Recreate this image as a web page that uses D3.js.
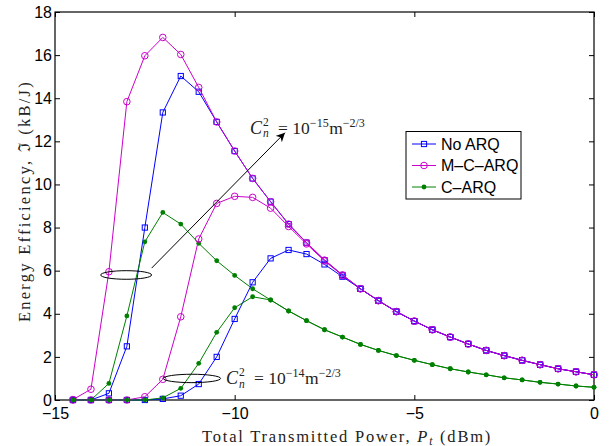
<!DOCTYPE html>
<html><head><meta charset="utf-8">
<script src="https://cdn.jsdelivr.net/npm/d3@7"></script>
<style>body{margin:0;background:#fff}</style>
</head><body><svg id="c" width="611" height="446"></svg>
<script>
// ---- data ----
const powerDbm = [-14.5,-14,-13.5,-13,-12.5,-12,-11.5,-11,-10.5,-10,-9.5,-9,-8.5,-8,-7.5,-7,-6.5,-6,-5.5,-5,-4.5,-4,-3.5,-3,-2.5,-2,-1.5,-1,-0.5,0];
// Cn^2 = 1e-15
const noArq15 = [0,0,0.31,2.49,8.00,13.34,15.03,14.30,12.90,11.55,10.28,9.20,8.16,7.30,6.49,5.80,5.16,4.61,4.10,3.66,3.26,2.92,2.60,2.30,2.06,1.84,1.64,1.45,1.31,1.17];
const mcArq15 = [0.02,0.50,5.95,13.84,15.97,16.82,16.03,14.50,12.90,11.55,10.28,9.20,8.16,7.30,6.49,5.80,5.16,4.61,4.10,3.66,3.26,2.92,2.60,2.30,2.06,1.84,1.64,1.45,1.31,1.17];
const cArq15  = [0,0,0.77,3.90,7.34,8.70,8.16,7.27,6.46,5.78,5.16,4.64,4.13,3.68,3.26,2.92,2.58,2.30,2.06,1.84,1.64,1.45,1.30,1.17,1.03,0.93,0.82,0.74,0.65,0.59];
// Cn^2 = 1e-14
const noArq14 = [0,0,0,0,0,0.05,0.20,0.74,2.00,3.76,5.46,6.57,6.96,6.77,6.29,5.72,5.16,4.61,4.10,3.66,3.26,2.92,2.60,2.30,2.06,1.84,1.64,1.45,1.31,1.17];
const mcArq14 = [0,0,0,0,0.15,0.96,3.86,7.47,9.12,9.45,9.40,8.90,8.05,7.24,6.45,5.78,5.16,4.61,4.10,3.66,3.26,2.92,2.60,2.30,2.06,1.84,1.64,1.45,1.31,1.17];
const cArq14  = [0,0,0,0,0,0.10,0.54,1.70,3.14,4.28,4.79,4.64,4.13,3.68,3.26,2.92,2.58,2.30,2.06,1.84,1.64,1.45,1.30,1.17,1.03,0.93,0.82,0.74,0.65,0.59];
const legendLabels = ["No ARQ","M\u2013C\u2013ARQ","C\u2013ARQ"];
const xTickValues = [-15,-10,-5,0];
const yTickValues = [0,2,4,6,8,10,12,14,16,18];

// ---- layout ----
const BLUE = "#0000ff", MAG = "#cc00cc", GRN = "#008000";
const svg = d3.select("#c");
const L = 55, R = 594, T = 12, B = 400;
const x = d3.scaleLinear().domain([-15,0]).range([L,R]);
const y = d3.scaleLinear().domain([0,18]).range([B,T]);
const sans = "'Liberation Sans', Arial, Helvetica, sans-serif";
const serif = "'Liberation Serif', 'Times New Roman', serif";

// widen a text to a target width using letter spacing
function spreadTo(sel, target){
  const w = sel.node().getComputedTextLength();
  const n = sel.text().length;
  sel.attr("letter-spacing", ((target - w)/n).toFixed(2));
}

// axes
const fmt = d => d < 0 ? "\u2212" + (-d) : String(d);
const gx = svg.append("g").attr("transform",`translate(0,${B})`)
  .call(d3.axisBottom(x).tickValues(xTickValues).tickSizeInner(-5).tickSizeOuter(0).tickPadding(8).tickFormat(fmt));
const gy = svg.append("g").attr("transform",`translate(${L},0)`)
  .call(d3.axisLeft(y).tickValues(yTickValues).tickSizeInner(-5).tickSizeOuter(0).tickPadding(3).tickFormat(fmt));
const gt = svg.append("g").attr("transform",`translate(0,${T})`)
  .call(d3.axisTop(x).tickValues(xTickValues).tickSizeInner(-5).tickSizeOuter(0).tickFormat(""));
const gr = svg.append("g").attr("transform",`translate(${R},0)`)
  .call(d3.axisRight(y).tickValues(yTickValues).tickSizeInner(-5).tickSizeOuter(0).tickFormat(""));
[gx,gy,gt,gr].forEach(g=>{
  g.select(".domain").remove();
  g.selectAll("text").attr("font-family",sans).attr("font-size",16).attr("fill","#000");
  g.selectAll("line").attr("stroke","#000");
});
svg.append("rect").attr("x",L).attr("y",T).attr("width",R-L).attr("height",B-T)
  .attr("fill","none").attr("stroke","#000").attr("stroke-width",1.2);

// series
const series = [
  {v:noArq15,c:BLUE,m:"sq"},{v:mcArq15,c:MAG,m:"ci"},{v:cArq15,c:GRN,m:"dot"},
  {v:noArq14,c:BLUE,m:"sq"},{v:mcArq14,c:MAG,m:"ci"},{v:cArq14,c:GRN,m:"dot"}
];
const line = d3.line().x((d,i)=>x(powerDbm[i])).y(d=>y(d));
function marker(g, m, c, cx, cy){
  if(m==="sq") g.append("rect").attr("x",cx-2.6).attr("y",cy-2.6).attr("width",5.2).attr("height",5.2)
      .attr("fill","none").attr("stroke",c).attr("stroke-width",1);
  else if(m==="ci") g.append("circle").attr("cx",cx).attr("cy",cy).attr("r",3.3)
      .attr("fill","none").attr("stroke",c).attr("stroke-width",1);
  else g.append("circle").attr("cx",cx).attr("cy",cy).attr("r",2.4).attr("fill",c);
}
series.forEach(s=>{
  const g = svg.append("g");
  g.append("path").attr("d",line(s.v)).attr("fill","none").attr("stroke",s.c).attr("stroke-width",1);
  s.v.forEach((d,i)=>marker(g,s.m,s.c,x(powerDbm[i]),y(d)));
});

// annotations
svg.append("defs").append("marker").attr("id","ah").attr("viewBox","0 0 10 10")
  .attr("refX",10).attr("refY",5).attr("markerWidth",9).attr("markerHeight",9)
  .attr("orient","auto").attr("markerUnits","userSpaceOnUse")
  .append("path").attr("d","M0,0 L10,5 L0,10 L3,5 Z").attr("fill","#000");
svg.append("ellipse").attr("cx",x(-13.02)).attr("cy",y(5.8)).attr("rx",25.5).attr("ry",4.3)
  .attr("fill","none").attr("stroke","#000").attr("stroke-width",1);
svg.append("line").attr("x1",x(-12.31)).attr("y1",y(6.12)).attr("x2",x(-8.6)).attr("y2",y(12.4))
  .attr("stroke","#000").attr("stroke-width",1).attr("marker-end","url(#ah)");
svg.append("ellipse").attr("cx",x(-11.19)).attr("cy",y(1.0)).attr("rx",28.7).attr("ry",4.2)
  .attr("fill","none").attr("stroke","#000").attr("stroke-width",1);

function cn(x0, base, expo){
  const g = svg.append("g").attr("font-family",serif).attr("fill","#222");
  g.append("text").attr("x",x0).attr("y",base).attr("font-size",18).attr("font-style","italic").text("C");
  g.append("text").attr("x",x0+13).attr("y",base-8).attr("font-size",11.5).text("2");
  g.append("text").attr("x",x0+13).attr("y",base+3.5).attr("font-size",11.5).attr("font-style","italic").text("n");
  const t = g.append("text").attr("x",x0+28).attr("y",base).attr("font-size",17.5);
  t.append("tspan").text("= 10");
  t.append("tspan").attr("dy",-7).attr("font-size",12).text("\u2212"+expo);
  t.append("tspan").attr("dy",7).attr("dx",0.5).attr("font-size",17.5).text("m");
  t.append("tspan").attr("dy",-7).attr("font-size",12).text("\u22122/3");
}
cn(x(-9.57), y(12.35), "15");
cn(x(-10.24), y(0.72), "14");

// legend
const lg = svg.append("g");
lg.append("rect").attr("x",406).attr("y",131.5).attr("width",115).attr("height",67.5)
  .attr("fill","#fff").attr("stroke","#000").attr("stroke-width",1);
const legItems = [{c:BLUE,m:"sq"},{c:MAG,m:"ci"},{c:GRN,m:"dot"}];
legItems.forEach((it,i)=>{
  const cy = 144 + i*21.5;
  lg.append("line").attr("x1",412).attr("x2",436).attr("y1",cy).attr("y2",cy).attr("stroke",it.c).attr("stroke-width",1);
  marker(lg,it.m,it.c,424,cy);
  lg.append("text").attr("x",441).attr("y",cy+5.8).attr("font-family",sans).attr("font-size",16).attr("fill","#000").text(legendLabels[i]);
});

// axis titles
const xt = svg.append("text").attr("x",202).attr("y",441.5)
  .attr("font-family",serif).attr("font-size",16.5).attr("fill","#222");
xt.append("tspan").text("Total Transmitted Power, ");
xt.append("tspan").attr("font-style","italic").text("P");
xt.append("tspan").attr("font-style","italic").attr("font-size",11.5).attr("dy",3).text("t");
xt.append("tspan").attr("dy",-3).text(" (dBm)");
spreadTo(xt, 290);

const yt = svg.append("text").attr("transform","translate(30,322) rotate(-90)")
  .attr("font-family",serif).attr("font-size",16.5).attr("fill","#222")
  .text("Energy Efficiency, \u2111 (kB/J)");
spreadTo(yt, 242);
</script></body></html>
